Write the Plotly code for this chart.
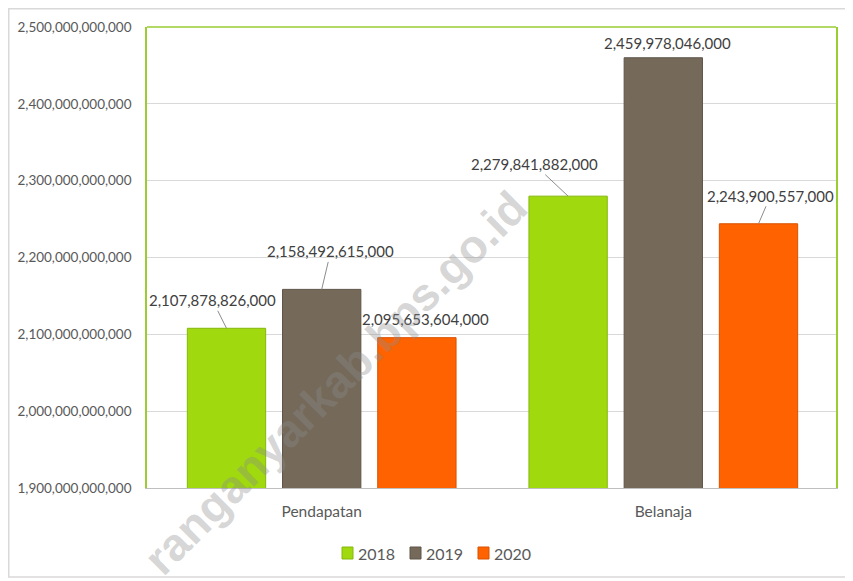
import plotly.graph_objects as go

categories = ["Pendapatan", "Belanaja"]
years = ["2018", "2019", "2020"]
values_2018 = [2107878826000, 2279841882000]
values_2019 = [2158492615000, 2459978046000]
values_2020 = [2095653604000, 2243900557000]
series = [values_2018, values_2019, values_2020]
colors = ["#9fd90e", "#75695a", "#ff6200"]
line_colors = ["#86b80a", "#5e5448", "#d95200"]
y_ticks = [1.9e12, 2.0e12, 2.1e12, 2.2e12, 2.3e12, 2.4e12, 2.5e12]

FONT = "Lato"
TXT = "#595959"
BARGAP = 0.164
slot = (1 - BARGAP) / 3

W, H = 846, 574
ML, MR, MT, MB = 139, 18, 19, 94
PW, PH = W - ML - MR, H - MT - MB


def px(x):
    return (x - ML) / PW


def py(y):
    return (H - MB - y) / PH


fig = go.Figure()
for name, vals, c, lc in zip(years, series, colors, line_colors):
    fig.add_trace(go.Bar(
        x=categories, y=vals, name=name, showlegend=False,
        marker=dict(color=c, line=dict(color=lc, width=1)),
    ))

# label offsets (pixels) per [series][category]: (ax, ay, arrow)
offsets = [
    [(-14, -28, True), (-34, -32, True)],
    [(9, -38, True), (4, -15, False)],
    [(9, -19, False), (12, -28, True)],
]
annotations = []
for k, vals in enumerate(series):
    for i, v in enumerate(vals):
        ax, ay, arrow = offsets[k][i]
        xpos = i + (k - 1) * slot
        text = f"{v:,}"
        if arrow:
            annotations.append(dict(
                x=xpos, y=v, xref="x", yref="y", text=text,
                showarrow=True, ax=ax, ay=ay, arrowhead=0, arrowwidth=1,
                arrowcolor="#8c8c8c", standoff=0, startstandoff=0,
                font=dict(family=FONT, size=15, color="#404040"),
            ))
        else:
            annotations.append(dict(
                x=xpos, y=v, xref="x", yref="y", text=text,
                showarrow=False, xshift=ax, yshift=-ay, yanchor="middle",
                font=dict(family=FONT, size=15, color="#404040"),
            ))

# watermark
annotations.append(dict(
    x=px(327), y=py(375), xref="paper", yref="paper",
    xanchor="center", yanchor="middle",
    text="<b>ranganyarkab.bps.go.id</b>", showarrow=False, textangle=-45,
    font=dict(family="Liberation Sans", size=46, color="rgba(140,140,140,0.36)"),
))

shapes = [
    dict(type="rect", xref="paper", yref="paper", x0=px(0.75), x1=px(841), y0=py(569), y1=py(0.75),
         line=dict(color="#d9d9d9", width=1.5), layer="below"),
    dict(type="line", xref="paper", yref="paper", x0=0, x1=1, y0=1, y1=1,
         line=dict(color="#9acd32", width=1.5)),
]

# legend (manual, to match the compact spacing)
leg_x = [334, 402, 470]
leg_y = 545
for name, c, lc, lx in zip(years, colors, line_colors, leg_x):
    shapes.append(dict(type="rect", xref="paper", yref="paper",
                       x0=px(lx), x1=px(lx + 11), y0=py(leg_y + 6), y1=py(leg_y - 6),
                       fillcolor=c, line=dict(color=lc, width=1)))
    annotations.append(dict(x=px(lx + 14), y=py(leg_y), xref="paper", yref="paper",
                            xanchor="left", yanchor="middle", text=name, showarrow=False,
                            font=dict(family=FONT, size=16, color=TXT)))

fig.update_layout(
    width=W, height=H,
    margin=dict(l=ML, r=MR, t=MT, b=MB, autoexpand=False),
    paper_bgcolor="white", plot_bgcolor="white",
    barmode="group", bargap=BARGAP, bargroupgap=0.177,
    font=dict(family=FONT, color=TXT),
    showlegend=False,
    annotations=annotations,
    shapes=shapes,
)
fig.update_yaxes(
    range=[1.9e12, 2.5e12], tickvals=y_ticks, tickformat=",d",
    gridcolor="#d9d9d9", gridwidth=1, zeroline=False,
    showline=True, linecolor="#9acd32", linewidth=1.5, mirror=True,
    ticks="", ticklabelstandoff=11,
    tickfont=dict(family=FONT, size=13.5, color=TXT),
)
fig.update_xaxes(
    showline=True, linecolor="#bfbfbf", linewidth=1, mirror=False,
    ticks="", tickfont=dict(family=FONT, size=15.5, color=TXT),
    ticklabelstandoff=9,
)

fig.write_html("out.html")
